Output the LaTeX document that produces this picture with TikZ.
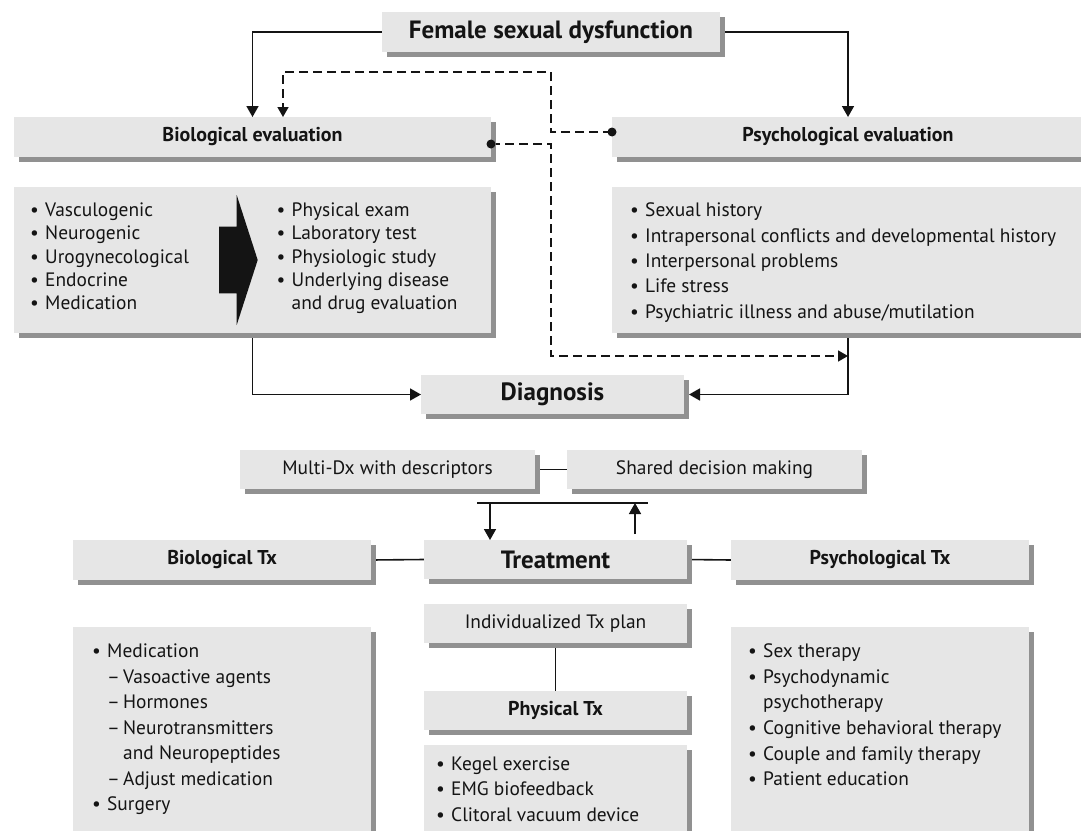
\documentclass[tikz,border=0pt]{standalone}
\usepackage{fontspec}
\setmainfont{PT Sans}
\usetikzlibrary{arrows.meta,shadows,calc}
\pgfdeclarelayer{back}
\pgfdeclarelayer{bg}
\pgfsetlayers{back,bg,main}
\definecolor{boxfill}{RGB}{230,230,230}
\definecolor{shadowc}{RGB}{145,145,145}
\definecolor{ink}{RGB}{20,20,20}
\newcommand{\bul}{\makebox[15pt][l]{•}}
\newcommand{\dsh}{\makebox[16pt][l]{–}}
\begin{document}
\begin{tikzpicture}[x=1pt,y=-1pt,
  box/.style={fill=boxfill, inner sep=0pt, outer sep=0pt, text=ink,
    general shadow={fill=shadowc, shadow xshift=5pt, shadow yshift=-5pt}},
  hd/.style={font=\fontsize{20}{23}\selectfont\bfseries},
  lbl/.style={font=\fontsize{19.4}{22}\selectfont},
  big/.style={font=\fontsize{25}{29}\selectfont\bfseries},
  lst/.style={anchor=base west, align=left, inner sep=0pt, text=ink},
  conn/.style={line width=1.6pt, draw=ink},
  arr/.style={conn, -{Triangle[length=11pt,width=12pt]}},
  darr/.style={conn, dash pattern=on 9pt off 5pt, -{Triangle[length=10pt,width=11pt]}}
]
\clip (0,0) rectangle (1081,830);
\begin{pgfonlayer}{back}
\fill[white] (0,0) rectangle (1081,830);
\end{pgfonlayer}

% boxes
\node[box, big, minimum width=338, minimum height=40] (title) at (551,32) {Female sexual dysfunction};
\node[box, hd, minimum width=477, minimum height=40] (bioeval) at (252.5,137) {Biological evaluation};
\node[box, hd, minimum width=472, minimum height=40] (psyeval) at (848,137) {Psychological evaluation};
\node[box, minimum width=477, minimum height=146] (biolist) at (252.5,260) {};
\node[box, minimum width=472, minimum height=146] (psylist) at (848,260) {};
\node[box, big, minimum width=263, minimum height=39] (diag) at (552.5,394.5) {Diagnosis};
\node[box, lbl, minimum width=295, minimum height=39] (multidx) at (387.5,469.5) {Multi-Dx with descriptors};
\node[box, lbl, minimum width=295, minimum height=39] (shared) at (714.5,469.5) {Shared decision making};
\node[box, big, minimum width=263, minimum height=39] (treat) at (555.5,559.5) {Treatment};
\node[box, hd, minimum width=298, minimum height=40] (biotx) at (222,560) {Biological Tx};
\node[box, hd, minimum width=298, minimum height=40] (psytx) at (880,560) {Psychological Tx};
\node[box, lbl, minimum width=263, minimum height=39] (indiv) at (555.5,623.5) {Individualized Tx plan};
\node[box, hd, minimum width=263, minimum height=39] (phys) at (555.5,710.5) {Physical Tx};
\node[box, minimum width=298, minimum height=218] (biotxlist) at (222,736) {};
\node[box, minimum width=298, minimum height=218] (psytxlist) at (880,736) {};
\node[box, minimum width=263, minimum height=100] (physlist) at (555.5,795) {};

% list texts (anchor = baseline of last line)
\node[lst, font=\fontsize{19.4}{23.3}\selectfont] (bl1) at (30,309.7)
  {\bul Vasculogenic\\\bul Neurogenic\\\bul Urogynecological\\\bul Endocrine\\\bul Medication};
\node[lst, font=\fontsize{19.4}{23.3}\selectfont] (bl2) at (276.5,309.7)
  {\bul Physical exam\\\bul Laboratory test\\\bul Physiologic study\\\bul Underlying disease\\\hspace*{15pt}and drug evaluation};
\node[lst, font=\fontsize{19.4}{25.4}\selectfont] (pl) at (630,318.3)
  {\bul Sexual history\\\bul Intrapersonal conflicts and developmental history\\\bul Interpersonal problems\\\bul Life stress\\\bul Psychiatric illness and abuse/mutilation};
\node[lst, font=\fontsize{19.4}{25.5}\selectfont] (btl) at (92,810.7)
  {\bul Medication\\\hspace*{15pt}\dsh Vasoactive agents\\\hspace*{15pt}\dsh Hormones\\\hspace*{15pt}\dsh Neurotransmitters\\\hspace*{31pt}and Neuropeptides\\\hspace*{15pt}\dsh Adjust medication\\\bul Surgery};
\node[lst, font=\fontsize{19.4}{25.6}\selectfont] (ptl) at (748,785.7)
  {\bul Sex therapy\\\bul Psychodynamic\\\hspace*{15pt}psychotherapy\\\bul Cognitive behavioral therapy\\\bul Couple and family therapy\\\bul Patient education};
\node[lst, font=\fontsize{19.4}{25.8}\selectfont] (phl) at (436,821.6)
  {\bul Kegel exercise\\\bul EMG biofeedback\\\bul Clitoral vacuum device};

% black block arrow
\fill[ink] (219,226.7) -- (236.7,226.7) -- (236.7,195) -- (257.7,260) -- (236.7,325) -- (236.7,293.3) -- (219,293.3) -- cycle;

% coordinates
\coordinate (dmid) at (551,356);
\coordinate (dend) at (848,356);
\coordinate (dtop) at (551,72);
\coordinate (tl) at (477,503);
\coordinate (tr) at (648,503);
\coordinate (da) at (490,503);
\coordinate (ua) at (635,503);

\begin{pgfonlayer}{bg}
\draw[arr] (title.west) -| (bioeval.north);
\draw[arr] (title.east) -| (psyeval.north);
\draw[darr] ([yshift=5pt]psyeval.west) -| (dtop) -| ([xshift=30.5pt]bioeval.north);
\draw[darr] ([yshift=-7pt]bioeval.east) -| (dmid) -- (dend);
\draw[arr] (biolist.south) |- (diag.west);
\draw[arr] (psylist.south) |- ([xshift=5pt]diag.east);
\draw[conn] (multidx.east) -- (shared.west);
\draw[conn] (tl) -- (tr);
\draw[arr] (da) -- (da |- treat.north);
\draw[arr] ([yshift=6pt]ua |- treat.north) -- (ua);
\draw[conn] (biotx.east) -- (treat.west);
\draw[conn] (treat.east) -- (psytx.west);
\draw[conn] (indiv.south) -- (phys.north);
\end{pgfonlayer}
\fill[ink] ([yshift=-7pt]bioeval.east) circle (4.5);
\fill[ink] ([yshift=5pt]psyeval.west) circle (4.5);
\end{tikzpicture}
\end{document}
